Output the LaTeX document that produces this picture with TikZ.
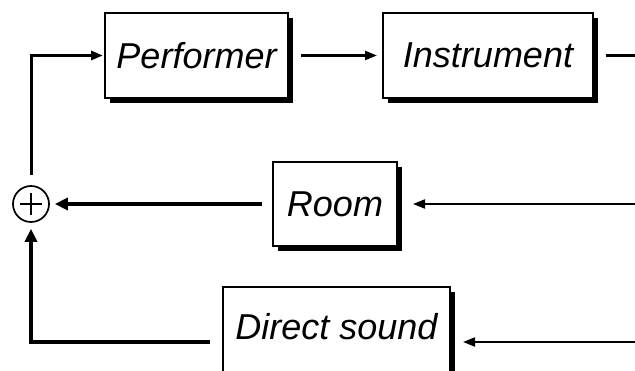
\documentclass[tikz,border=0pt]{standalone}
\usepackage{fontspec}
\setmainfont{Liberation Sans}
\usetikzlibrary{arrows.meta,shadows}

\begin{document}
\begin{tikzpicture}[x=1pt,y=-1pt,>={Triangle[length=12pt,width=9pt]},
  block/.style={draw,line width=2pt,fill=white,inner sep=0pt,
    font=\fontsize{36}{40}\selectfont\itshape,
    drop shadow={shadow xshift=5pt,shadow yshift=-5pt,opacity=1,fill=black}},
  sig/.style={line width=2.5pt},
  feed/.style={line width=2pt},
  heavy/.style={line width=4pt,>={Triangle[length=13pt,width=12pt]}}]
  % frame 635 x 371, y runs downward
  \useasboundingbox (0,0) rectangle (635,371);
  % blocks
  \node[block,minimum width=183pt,minimum height=85pt] (perf) at (196.5,55.5) {Performer};
  \node[block,minimum width=210pt,minimum height=85pt] (inst) at (488,55.5) {Instrument};
  \node[block,minimum width=124pt,minimum height=84pt] (room) at (335,204) {Room};
  % lower block runs past the bottom edge
  \node[block,minimum width=227pt,minimum height=110pt,text height=26pt,text depth=30pt]
    (direct) at (336.5,342) {Direct sound};
  % summing point
  \node[draw,circle,line width=1.7pt,minimum size=36pt,inner sep=0pt] (sum) at (31,204) {};
  \draw[line width=2.5pt] ([xshift=-11pt]sum.center) -- ([xshift=11pt]sum.center)
    ([yshift=-11pt]sum.center) -- ([yshift=11pt]sum.center);
  % free ends at the right edge
  \coordinate (outA) at (640,55.5);
  \coordinate (outB) at (640,204);
  \coordinate (outC) at (640,342);
  % signal paths
  \draw[sig,->,shorten <=12pt,shorten >=5pt] (perf.east) -- (inst.west);
  \draw[sig,shorten <=12pt] (inst.east) -- (outA);
  \draw[feed,->,shorten >=15pt] (outB) -- (room.east);
  \draw[feed,->,shorten >=12pt] (outC) -- (direct.east);
  \draw[heavy,->,shorten <=10pt,shorten >=5pt] (room.west) -- (sum.east);
  \draw[heavy,->,shorten <=12pt,shorten >=6pt] (direct.west) -| (sum.south);
  \draw[sig,->,line width=3pt,shorten <=10pt,shorten >=1pt] (sum.north) |- (perf.west);
\end{tikzpicture}
\end{document}
